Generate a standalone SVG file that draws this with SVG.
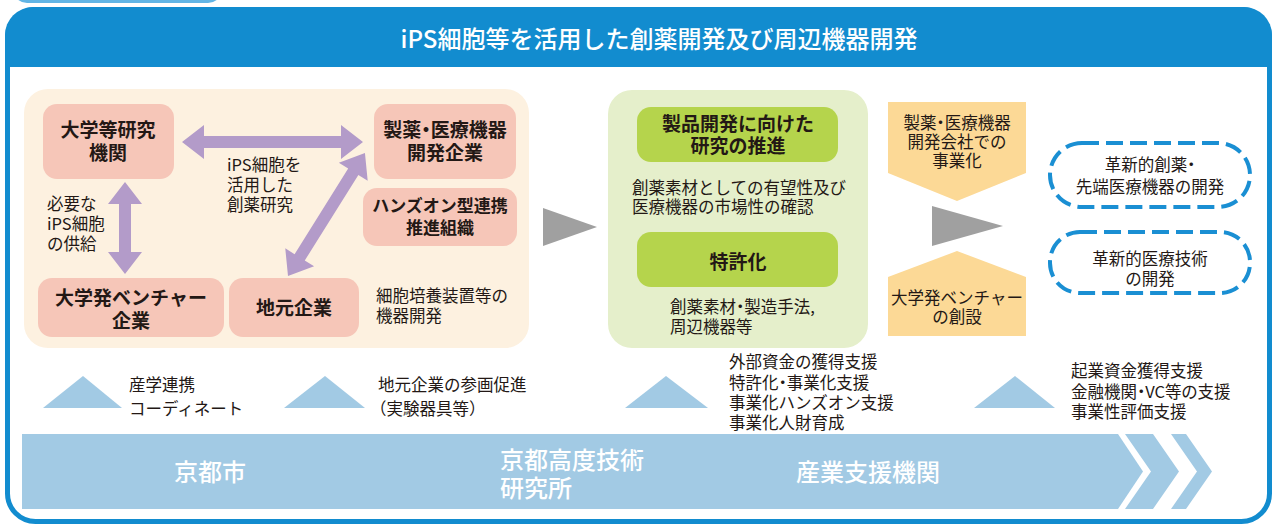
<svg xmlns="http://www.w3.org/2000/svg" width="1275" height="525" viewBox="0 0 1275 525">
<style>
text{font-family:'Noto Sans CJK JP','Noto Sans',sans-serif;fill:#231815}
.b{font-weight:700;font-size:19px;text-anchor:middle}
.m{text-anchor:middle}
.t{font-size:16.5px}
.p{font-feature-settings:"palt"}
.w{fill:#fff;font-weight:500;font-size:24px}
.salmon{fill:#f6c6b8}
.green{fill:#b5d44c}
.orange{fill:#fcd996}
.grey{fill:#a0a0a0}
.lb{fill:#a2cae4}
.dash{fill:#fff;stroke:#1a8fd3;stroke-width:4;stroke-dasharray:17 7}
.arrow{fill:#b39bc9}
</style>
<rect x="13" y="-30" width="209" height="33" rx="14" fill="#62b5e5"/>
<g id="frame">
<rect x="7.5" y="9.5" width="1262" height="512" rx="28" fill="#fff" stroke="#128ccf" stroke-width="5"/>
<path d="M5,67 V35 A28,28 0 0 1 33,7 H1244 A28,28 0 0 1 1272,35 V67 Z" fill="#128ccf"/>
<text x="659" y="48" class="m" style="fill:#fff;font-size:24px;font-weight:500">iPS細胞等を活用した創薬開発及び周辺機器開発</text>
</g>
<g id="panel-left">
<rect x="24" y="89" width="505" height="259" rx="24" fill="#fdf1e0"/>
</g>
<g id="node-univ">
<rect x="43" y="104" width="131" height="75" rx="14" class="salmon"/>
<text class="b"><tspan x="108" y="137">大学等研究</tspan><tspan x="108" y="160">機関</tspan></text>
</g>
<g id="node-pharma">
<rect x="374" y="104" width="142" height="75" rx="14" class="salmon"/>
<text class="b"><tspan class="p" x="445" y="137">製薬・医療機器</tspan><tspan x="445" y="160">開発企業</tspan></text>
</g>
<g id="node-handson">
<rect x="363" y="188" width="154" height="58" rx="14" class="salmon"/>
<text class="b" style="font-size:17px"><tspan x="440" y="212">ハンズオン型連携</tspan><tspan x="440" y="234">推進組織</tspan></text>
</g>
<g id="node-venture">
<rect x="38" y="278" width="186" height="59" rx="14" class="salmon"/>
<text class="b"><tspan x="131" y="305">大学発ベンチャー</tspan><tspan x="131" y="328">企業</tspan></text>
</g>
<g id="node-local">
<rect x="229" y="278" width="130" height="59" rx="14" class="salmon"/>
<text x="294" y="315" class="b">地元企業</text>
</g>
<g id="connectors">
<polygon class="arrow" points="182,142 204,125 204,136 341,136 341,125 363,142 341,159 341,148 204,148 204,159"/>
<polygon class="arrow" points="125,182 142,204 131,204 131,252 142,252 125,274 108,252 119,252 119,204 108,204"/>
<polygon class="arrow" transform="translate(288,276) rotate(-57.95)" points="0,0 22,-17 22,-6 123,-6 123,-17 145,0 123,17 123,6 22,6 22,17"/>
<polygon class="grey" points="543,208 543,246 597,227"/>
<polygon class="grey" points="932,206 932,246 1003,226"/>
</g>
<g id="labels-left">
<text class="t"><tspan x="227" y="171">iPS細胞を</tspan><tspan x="227" y="191">活用した</tspan><tspan x="227" y="211">創薬研究</tspan></text>
<text class="t"><tspan x="47" y="210">必要な</tspan><tspan x="47" y="230">iPS細胞</tspan><tspan x="47" y="250">の供給</tspan></text>
<text class="t"><tspan x="376" y="302">細胞培養装置等の</tspan><tspan x="376" y="322">機器開発</tspan></text>
</g>
<g id="panel-green">
<rect x="608" y="90" width="260" height="258" rx="24" fill="#e5efcb"/>
</g>
<g id="node-research">
<rect x="637" y="107" width="201" height="55" rx="14" class="green"/>
<text class="b"><tspan x="738" y="131">製品開発に向けた</tspan><tspan x="738" y="153">研究の推進</tspan></text>
<text class="t"><tspan x="632" y="194">創薬素材としての有望性及び</tspan><tspan x="632" y="213">医療機器の市場性の確認</tspan></text>
</g>
<g id="node-patent">
<rect x="637" y="232" width="201" height="55" rx="14" class="green"/>
<text x="738" y="269" class="b">特許化</text>
<text class="t"><tspan class="p" x="670" y="313">創薬素材・製造手法,</tspan><tspan x="670" y="333">周辺機器等</tspan></text>
</g>
<g id="node-commercial">
<polygon class="orange" points="888,102 1026,102 1026,173 957,201 888,173"/>
<text class="t m"><tspan class="p" x="957" y="129">製薬・医療機器</tspan><tspan x="957" y="148">開発会社での</tspan><tspan x="957" y="167">事業化</tspan></text>
</g>
<g id="node-startup">
<polygon class="orange" points="957,251 1026,277 1026,336 888,336 888,277"/>
<text class="t m"><tspan x="957" y="304">大学発ベンチャー</tspan><tspan x="957" y="323">の創設</tspan></text>
</g>
<g id="node-innov-drug">
<rect x="1050" y="143" width="200" height="64" rx="32" class="dash"/>
<text class="t m"><tspan class="p" x="1150" y="171">革新的創薬・</tspan><tspan x="1150" y="193">先端医療機器の開発</tspan></text>
</g>
<g id="node-innov-tech">
<rect x="1050" y="232" width="200" height="61" rx="30" class="dash"/>
<text class="t m"><tspan x="1150" y="265">革新的医療技術</tspan><tspan x="1150" y="285">の開発</tspan></text>
</g>
<g id="support">
<polygon class="lb" points="43,408 122,408 83,376"/>
<polygon class="lb" points="284,408 365,408 325,376"/>
<polygon class="lb" points="625,408 708,408 666,376"/>
<polygon class="lb" points="974,408 1055,408 1015,376"/>
<text class="t"><tspan x="129" y="391">産学連携</tspan><tspan x="129" y="415">コーディネート</tspan></text>
<text class="t"><tspan x="378" y="391">地元企業の参画促進</tspan><tspan x="370" y="415">（実験器具等）</tspan></text>
<text class="t"><tspan x="729" y="368">外部資金の獲得支援</tspan><tspan class="p" x="729" y="389">特許化・事業化支援</tspan><tspan x="729" y="409">事業化ハンズオン支援</tspan><tspan x="729" y="429">事業化人財育成</tspan></text>
<text class="t"><tspan x="1071" y="377">起業資金獲得支援</tspan><tspan class="p" x="1071" y="398">金融機関・VC等の支援</tspan><tspan x="1071" y="418">事業性評価支援</tspan></text>
</g>
<g id="bar">
<polygon class="lb" points="22,434 1118,434 1143,471.5 1118,509 22,509"/>
<polygon class="lb" points="1125,434 1153,434 1179,471.5 1153,509 1125,509 1151,471.5"/>
<polygon class="lb" points="1171,434 1186,434 1212,471.5 1186,509 1171,509 1197,471.5"/>
<text class="w m" x="210" y="481">京都市</text>
<text class="w"><tspan x="500" y="469">京都高度技術</tspan><tspan x="500" y="497">研究所</tspan></text>
<text class="w m" x="868" y="481">産業支援機関</text>
</g>
</svg>
